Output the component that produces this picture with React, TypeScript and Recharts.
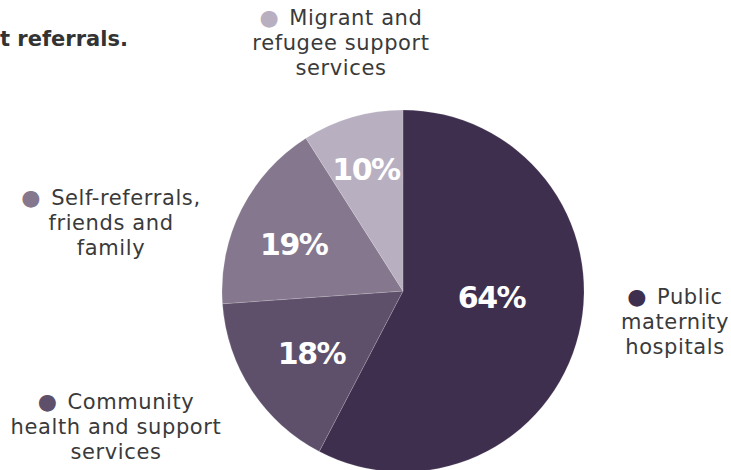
import React from "react";
import { PieChart, Pie, Cell } from "recharts";

const categories = [
  "Public maternity hospitals",
  "Community health and support services",
  "Self-referrals, friends and family",
  "Migrant and refugee support services",
];
const shares = [64, 18, 19, 10];
const labelLines = [
  ["Public", "maternity", "hospitals"],
  ["Community", "health and support", "services"],
  ["Self-referrals,", "friends and", "family"],
  ["Migrant and", "refugee support", "services"],
];

const COLORS = ["#3f2f4f", "#5e506b", "#85788e", "#b8afc0"];
// where each outer label block sits, relative to the pie centre
const LABEL_OFFSETS = [
  { dx: 272, dy: 13 },
  { dx: -287, dy: 118 },
  { dx: -292, dy: -86 },
  { dx: -62, dy: -266 },
];
// percentage label placement: fraction of radius and angle nudge (deg)
const PCT_POS = [
  { r: 0.49, da: 9.9 },
  { r: 0.613, da: 1.2 },
  { r: 0.657, da: 3.5 },
  { r: 0.7, da: 0.8 },
];

const data = categories.map((name, i) => ({ name, value: shares[i], lines: labelLines[i] }));

const RAD = Math.PI / 180;
const FONT = "'DejaVu Sans', sans-serif";

const renderLabel = (props: any) => {
  const { cx, cy, midAngle, outerRadius, index, value } = props;
  const pos = PCT_POS[index];
  const r = outerRadius * pos.r;
  const ang = midAngle + pos.da;
  const px = cx + r * Math.cos(-ang * RAD);
  const py = cy + r * Math.sin(-ang * RAD);
  const off = LABEL_OFFSETS[index];
  const lines: string[] = data[index].lines;
  return (
    <g>
      <text
        x={px}
        y={py}
        fill="#ffffff"
        textAnchor="middle"
        dominantBaseline="central"
        fontFamily={FONT}
        fontWeight="bold"
        fontSize={30}
        letterSpacing={-1.5}
      >
        {value}%
      </text>
      {lines.map((ln, k) => (
        <text
          key={k}
          x={cx + off.dx}
          y={cy + off.dy + k * 25}
          fill="#3a3a3a"
          textAnchor="middle"
          fontFamily={FONT}
          fontSize={21}
          letterSpacing={0.6}
        >
          {k === 0 && (
            <tspan fill={COLORS[index]} fontSize={22}>
              {"\u25CF"}
            </tspan>
          )}
          {k === 0 ? <tspan dx={10}>{ln}</tspan> : ln}
        </text>
      ))}
    </g>
  );
};

export default function App() {
  return (
    <div style={{ position: "absolute", left: 0, top: 0, width: 731, height: 470, background: "#fff", overflow: "hidden" }}>
      <div
        style={{
          position: "absolute",
          left: 0,
          top: 27,
          fontFamily: FONT,
          fontWeight: "bold",
          fontSize: 21,
          color: "#333333",
          whiteSpace: "nowrap",
        }}
      >
        t referrals.
      </div>
      <PieChart width={731} height={470} style={{ position: "absolute", left: 0, top: 0 }}>
        <Pie
          data={data}
          dataKey="value"
          nameKey="name"
          cx={398}
          cy={286}
          outerRadius={181}
          startAngle={90}
          endAngle={-270}
          stroke="rgba(255,255,255,0.25)"
          strokeWidth={0.6}
          label={renderLabel}
          labelLine={false}
          isAnimationActive={false}
        >
          {data.map((d, i) => (
            <Cell key={d.name} fill={COLORS[i]} />
          ))}
        </Pie>
      </PieChart>
    </div>
  );
}
